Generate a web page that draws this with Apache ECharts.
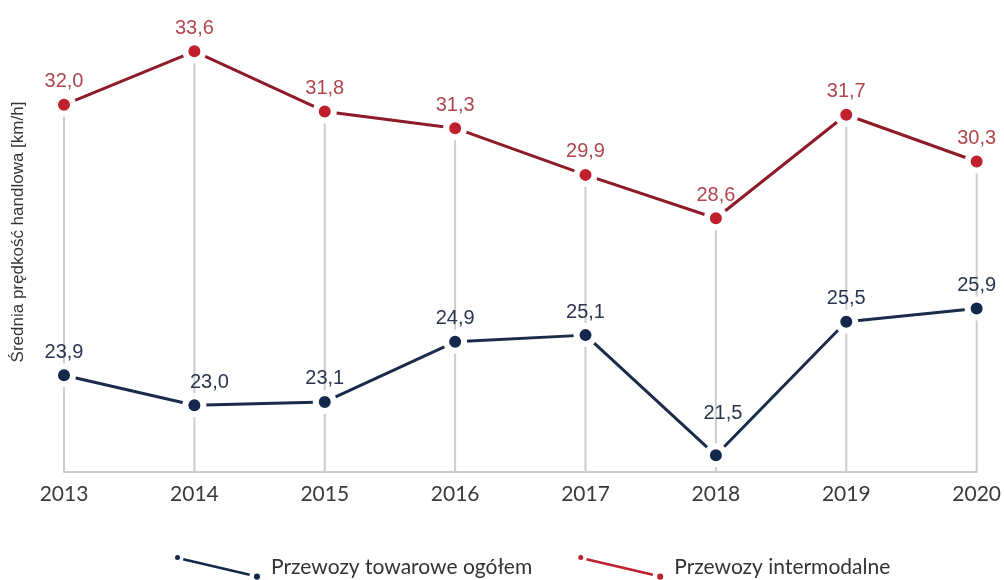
<!DOCTYPE html>
<html>
<head>
<meta charset="utf-8">
<script src="https://cdn.jsdelivr.net/npm/echarts@6/dist/echarts.min.js"></script>
<style>
  html, body { margin: 0; padding: 0; background: #fff; }
  #main { width: 1004px; height: 580px; }
</style>
</head>
<body>
<div id="main"></div>
<script>
var years = ['2013', '2014', '2015', '2016', '2017', '2018', '2019', '2020'];
var towarowe = [23.9, 23.0, 23.1, 24.9, 25.1, 21.5, 25.5, 25.9];
var intermodalne = [32.0, 33.6, 31.8, 31.3, 29.9, 28.6, 31.7, 30.3];

var blue = '#14284b', blueLine = '#1c2b4c';
var red = '#c0202e', redLine = '#8e1b2a';

// legend icon: small dot, slanted line, bigger dot
var legendIcon = 'path://M0.5,3a2.5,2.5 0 1,0 5,0a2.5,2.5 0 1,0 -5,0Z' +
  'M9,3.5L75,19L74.4,21.5L8.4,6Z' +
  'M79,22a3,3 0 1,0 6,0a3,3 0 1,0 -6,0Z';

var fmt = function (p) { return p.value.toFixed(1).replace('.', ','); };

// label tweaks for crowded points
var blueData = towarowe.map(function (v, i) {
  if (i === 1) return { value: v, label: { offset: [15, 0] } };
  if (i === 5) return { value: v, label: { distance: 20, offset: [7, 0] } };
  return v;
});

var myChart = echarts.init(document.getElementById('main'));
myChart.setOption({
  animation: false,
  grid: { left: 64, right: 27, top: 38, bottom: 108 },
  graphic: [{
    type: 'text',
    x: 18, y: 232,
    rotation: Math.PI / 2,
    style: {
      text: 'Średnia prędkość handlowa [km/h]',
      font: '17px "Liberation Sans", Arial, sans-serif',
      fill: '#333',
      textAlign: 'center',
      textVerticalAlign: 'middle'
    }
  }],
  legend: {
    data: ['Przewozy towarowe ogółem', 'Przewozy intermodalne'],
    left: 170,
    top: 550,
    icon: legendIcon,
    itemWidth: 85,
    itemHeight: 25,
    itemGap: 46,
    itemStyle: { borderWidth: 0 },
    textStyle: {
      fontFamily: 'Lato',
      fontSize: 21,
      color: '#333',
      padding: [0, 0, 0, 6]
    }
  },
  xAxis: {
    type: 'category',
    data: years,
    boundaryGap: false,
    axisLine: { lineStyle: { color: '#cccccc', width: 2 } },
    axisTick: { show: false },
    splitLine: { show: false },
    axisLabel: {
      fontFamily: 'Lato',
      fontSize: 21,
      color: '#3a3a3a',
      margin: 12
    }
  },
  yAxis: {
    type: 'value',
    min: 21,
    max: 34,
    show: false
  },
  series: [
    {
      name: 'drop',
      type: 'bar',
      data: intermodalne,
      barWidth: 2,
      silent: true,
      z: 1,
      itemStyle: { color: '#cccccc' }
    },
    {
      name: 'Przewozy towarowe ogółem',
      type: 'line',
      data: blueData,
      z: 3,
      symbol: 'circle',
      symbolSize: 18,
      lineStyle: { color: blueLine, width: 3 },
      itemStyle: { color: blue, borderColor: '#fff', borderWidth: 6 },
      label: {
        show: true,
        position: 'top',
        distance: 1,
        formatter: fmt,
        fontFamily: '"Liberation Sans", Arial, sans-serif',
        fontSize: 20,
        color: '#2a3550'
      }
    },
    {
      name: 'Przewozy intermodalne',
      type: 'line',
      data: intermodalne,
      z: 3,
      symbol: 'circle',
      symbolSize: 18,
      lineStyle: { color: redLine, width: 3 },
      itemStyle: { color: red, borderColor: '#fff', borderWidth: 6 },
      label: {
        show: true,
        position: 'top',
        distance: 1,
        formatter: fmt,
        fontFamily: '"Liberation Sans", Arial, sans-serif',
        fontSize: 20,
        color: '#b0454f'
      }
    }
  ]
});
</script>
</body>
</html>
